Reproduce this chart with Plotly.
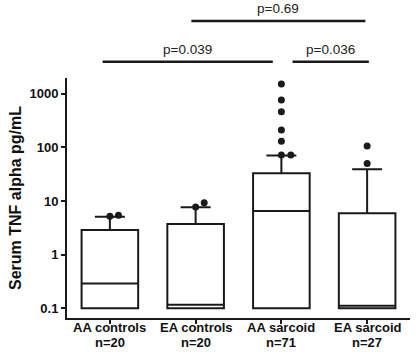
import plotly.graph_objects as go

groups = ["AA controls", "EA controls", "AA sarcoid", "EA sarcoid"]
n_sizes = [20, 20, 71, 27]
q1 = [0.1, 0.1, 0.1, 0.1]
median = [0.29, 0.117, 6.5, 0.112]
q3 = [2.87, 3.72, 32.7, 5.9]
lower = [0.1, 0.1, 0.1, 0.1]
upper = [5.1, 7.6, 70.0, 39.0]

outlier_group = [0, 0, 1, 1, 2, 2, 2, 2, 2, 2, 2, 3, 3]
outlier_value = [5.2, 5.4, 7.7, 9.3, 72, 72, 129, 209, 457, 759, 1503, 50, 105]
outlier_jitter = [0, 0.1, 0, 0.1, 0, 0.11, 0, 0, 0, 0, 0, 0, 0]

p_labels = ["p=0.039", "p=0.036", "p=0.69"]
p_start = [-0.085, 2.13, 0.95]
p_end = [1.90, 3.02, 2.98]
p_level = [1.068, 1.068, 1.2375]

idx = list(range(len(groups)))
FAM = "Liberation Sans, Arial, sans-serif"
bold = dict(family=FAM, size=13, color="#111", weight="bold")

fig = go.Figure()
fig.add_trace(go.Box(
    x=idx, q1=q1, median=median, q3=q3, lowerfence=lower, upperfence=upper,
    width=0.66, whiskerwidth=0.53, fillcolor="white",
    line=dict(color="#1a1a1a", width=2), boxpoints=False, showlegend=False,
    hoverinfo="skip",
))
fig.add_trace(go.Scatter(
    x=[g + j for g, j in zip(outlier_group, outlier_jitter)], y=outlier_value,
    mode="markers", marker=dict(color="#1a1a1a", size=7), showlegend=False,
))

for lab, a, b, lvl in zip(p_labels, p_start, p_end, p_level):
    fig.add_shape(type="line", xref="x", yref="paper", x0=a, x1=b, y0=lvl, y1=lvl,
                  line=dict(color="#1a1a1a", width=2.5))
    fig.add_annotation(xref="x", yref="paper", x=(a + b) / 2, y=lvl + 0.012, yanchor="bottom",
                       text=lab, showarrow=False,
                       font=dict(family=FAM, size=13.5, color="#222"))

for i, g, n in zip(idx, groups, n_sizes):
    fig.add_annotation(xref="x", yref="paper", x=i, y=-0.0375, yanchor="middle",
                       text=g, showarrow=False, font=bold)
    fig.add_annotation(xref="x", yref="paper", x=i, y=-0.104, yanchor="middle",
                       text=f"n={n}", showarrow=False, font=bold)

fig.update_layout(
    template="none",
    width=416, height=352,
    margin=dict(l=67, r=6, t=78, b=34),
    plot_bgcolor="white", paper_bgcolor="white",
    xaxis=dict(range=[-0.5, 3.5], tickvals=idx, automargin=False,
               showticklabels=False, showgrid=False, zeroline=False,
               showline=True, linecolor="#1a1a1a", linewidth=2,
               ticks="outside", ticklen=4, tickwidth=1.5, tickcolor="#1a1a1a"),
    yaxis=dict(type="log", range=[-1.18, 3.29], automargin=False,
               tickvals=[0.1, 1, 10, 100, 1000], ticktext=["0.1", "1", "10", "100", "1000"],
               tickfont=bold, showgrid=False, zeroline=False,
               showline=True, linecolor="#1a1a1a", linewidth=2,
               ticks="outside", ticklen=4, tickwidth=1.5, tickcolor="#1a1a1a",
               title=dict(text="Serum TNF alpha pg/mL",
                          font=dict(family=FAM, size=16, color="#111", weight="bold"),
                          standoff=4)),
)

fig.write_html("out.html", config={"displayModeBar": False},
               post_script="document.body.style.margin='0px';")
